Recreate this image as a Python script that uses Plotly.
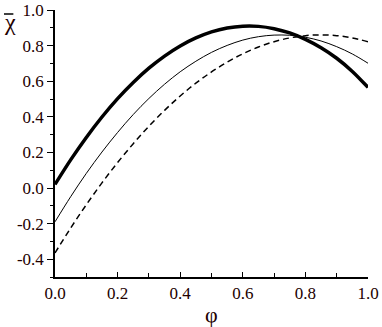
import plotly.graph_objects as go

# values
phi = [0.00, 0.05, 0.10, 0.15, 0.20, 0.25, 0.30, 0.35, 0.40, 0.45, 0.50,
       0.55, 0.60, 0.65, 0.70, 0.75, 0.80, 0.85, 0.90, 0.95, 1.00]
chi_thick = [0.02, 0.158, 0.284, 0.399, 0.502, 0.593, 0.673, 0.741, 0.798, 0.843, 0.877,
             0.899, 0.909, 0.908, 0.895, 0.871, 0.835, 0.788, 0.729, 0.655, 0.565]
chi_thin = [-0.19, -0.049, 0.082, 0.202, 0.312, 0.413, 0.503, 0.583, 0.653, 0.712, 0.762,
            0.801, 0.831, 0.850, 0.859, 0.858, 0.847, 0.826, 0.794, 0.753, 0.701]
chi_dash = [-0.365, -0.225, -0.094, 0.029, 0.143, 0.249, 0.347, 0.436, 0.517, 0.589, 0.652,
            0.707, 0.754, 0.792, 0.822, 0.843, 0.856, 0.860, 0.856, 0.843, 0.822]

SERIF = 'Liberation Serif'
TEXT_COLOR = '#220000'

fig = go.Figure()
fig.add_trace(go.Scatter(x=phi, y=chi_dash, mode='lines', line_shape='spline',
                         line=dict(color='black', width=1.5, dash='6px,4px')))
fig.add_trace(go.Scatter(x=phi, y=chi_thin, mode='lines', line_shape='spline',
                         line=dict(color='black', width=1)))
fig.add_trace(go.Scatter(x=phi, y=chi_thick, mode='lines', line_shape='spline',
                         line=dict(color='black', width=3.5)))

tick_font = dict(family=SERIF, size=17, color=TEXT_COLOR)

fig.update_layout(
    width=382, height=327,
    margin=dict(l=55, r=14, t=10, b=50),
    paper_bgcolor='white', plot_bgcolor='white',
    showlegend=False,
    font=tick_font,
    xaxis=dict(range=[0, 1], tickvals=[0, 0.2, 0.4, 0.6, 0.8, 1.0],
               ticktext=['0.0', '0.2', '0.4', '0.6', '0.8', '1.0'],
               tickfont=tick_font, automargin=False,
               showline=True, linecolor='black', linewidth=1.5, showgrid=False,
               zeroline=False, ticks='inside', ticklen=5, tickcolor='black',
               minor=dict(dtick=0.1, ticks='inside', ticklen=4, tickcolor='black')),
    yaxis=dict(range=[-0.5, 1.0], tickvals=[-0.4, -0.2, 0, 0.2, 0.4, 0.6, 0.8, 1.0],
               ticktext=['-0.4', '-0.2', '0.0', '0.2', '0.4', '0.6', '0.8', '1.0'],
               tickfont=tick_font, automargin=False,
               showline=True, linecolor='black', linewidth=1.5, showgrid=False,
               zeroline=False, ticks='outside', ticklen=6, tickcolor='black',
               minor=dict(dtick=0.1, ticks='outside', ticklen=3, tickcolor='black')),
)

# x-axis symbol phi, below the tick labels
fig.add_annotation(xref='paper', yref='paper', x=0.5, y=-0.085, xanchor='center',
                   yanchor='top', text='φ', showarrow=False,
                   font=dict(family=SERIF, size=22, color=TEXT_COLOR))

# y-axis symbol: chi with an overbar, placed top-left
fig.add_annotation(xref='paper', yref='paper', x=-0.145, y=0.955, xanchor='center',
                   yanchor='middle', text='χ', showarrow=False,
                   font=dict(family=SERIF, size=24, color=TEXT_COLOR))
fig.add_shape(type='line', xref='paper', yref='paper', x0=-0.163, x1=-0.133,
              y0=1.0 - 4 / 267, y1=1.0 - 4 / 267, line=dict(color='black', width=1.5))

fig.write_html("out.html", config={'displayModeBar': False},
               post_script="document.body.style.margin='0';")
